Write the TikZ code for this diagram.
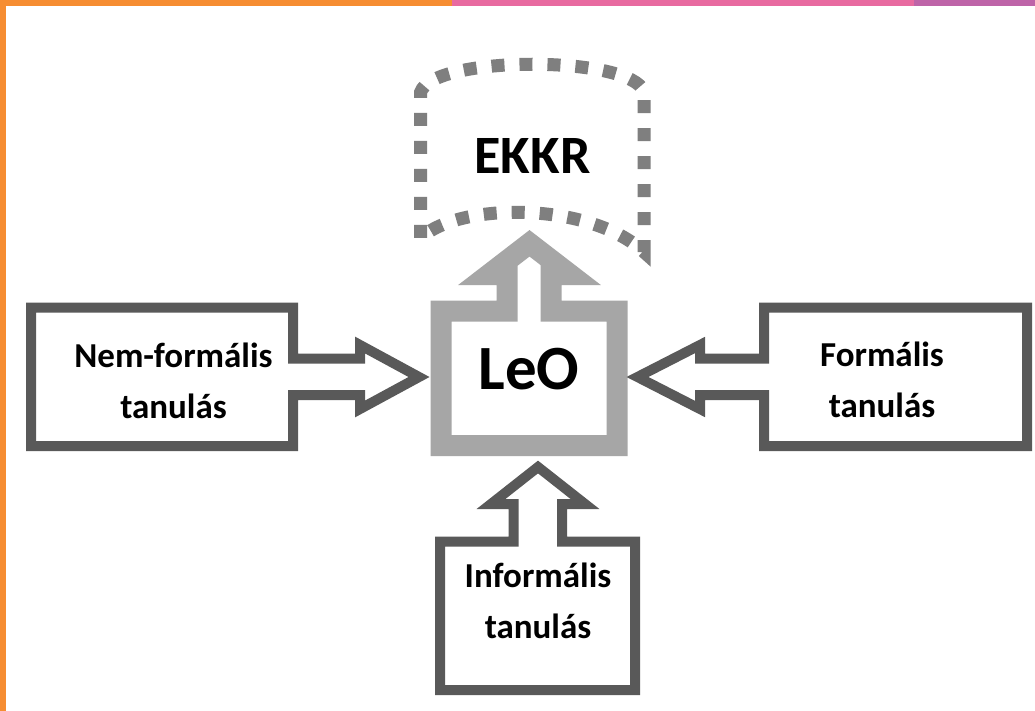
\documentclass[tikz,border=0pt]{standalone}
\usepackage{fontspec}
\setmainfont{Carlito}
\definecolor{darkgr}{HTML}{595959}
\definecolor{lightgr}{HTML}{A6A6A6}
\definecolor{dotgr}{HTML}{7F7F7F}
\definecolor{barorange}{HTML}{F68D32}
\definecolor{barpink}{HTML}{E86AA0}
\definecolor{barpurple}{HTML}{BE64A8}
\tikzset{
  darkbox/.style={draw=darkgr, line width=10pt, line join=miter},
  lightbox/.style={draw=lightgr, line width=21pt, line join=miter},
  dotbox/.style={draw=dotgr, line width=13pt, dash pattern=on 13pt off 15pt, line join=miter},
  lbl/.style={align=center, inner sep=0pt, font=\bfseries\fontsize{35}{51}\selectfont},
  big/.style={anchor=base, inner sep=0pt},
}
\begin{document}
\begin{tikzpicture}[x=1pt,y=-1pt]
\useasboundingbox (0,0) rectangle (1035,711);
\fill[white] (0,0) rectangle (1035,711);
% frame bars
\fill[barorange] (0,0) rectangle (452,6);
\fill[barpink] (452,0) rectangle (914,6);
\fill[barpurple] (914,0) rectangle (1035,6);
\fill[barorange] (0,0) rectangle (6,711);

% EKKR dotted shape
\draw[dotbox] (420.7,238) -- (420.7,92) .. controls (433,55) and (632,55) .. (644,92)
  -- (644,252) .. controls (590,201.7) and (460,201.7) .. (420.7,238) -- cycle;

% LeO box with up arrow
\draw[lightbox] (441,445.5) -- (441,311) -- (507,311) -- (507,274.5) -- (489,274.5)
  -- (529.5,243.3) -- (570,274.5) -- (551,274.5) -- (551,311) -- (617,311)
  -- (617,445.5) -- cycle;

% Nem-formalis (left) box with right arrow
\draw[darkbox] (31,307.5) -- (293,307.5) -- (293,358.5) -- (360,358.5) -- (360,345)
  -- (419,377) -- (360,409) -- (360,395) -- (293,395) -- (293,446) -- (31,446) -- cycle;

% Formalis (right) box with left arrow
\draw[darkbox] (1027,307.5) -- (764,307.5) -- (764,358.5) -- (700,358.5) -- (700,345)
  -- (637.5,377) -- (700,409) -- (700,395) -- (764,395) -- (764,446) -- (1027,446) -- cycle;

% Informalis (bottom) box with up arrow
\draw[darkbox] (440,690) -- (440,541.7) -- (513.5,541.7) -- (513.5,504) -- (491,504)
  -- (538,467) -- (585,504) -- (562,504) -- (562,541.7) -- (635,541.7) -- (635,690) -- cycle;

% texts
\node[big, font=\bfseries\fontsize{54}{60}\selectfont] (ekkr) at (532.5,173.3) {EKKR};
\node[big, font=\bfseries\fontsize{63}{70}\selectfont] (leo) at (529,389) {LeO};
\node[lbl] (nem) at (173.5,381) {Nem-formális\\tanulás};
\node[lbl] (form) at (882,380) {Formális\\tanulás};
\node[lbl] (inf) at (538,601) {Informális\\tanulás};
\end{tikzpicture}
\end{document}
